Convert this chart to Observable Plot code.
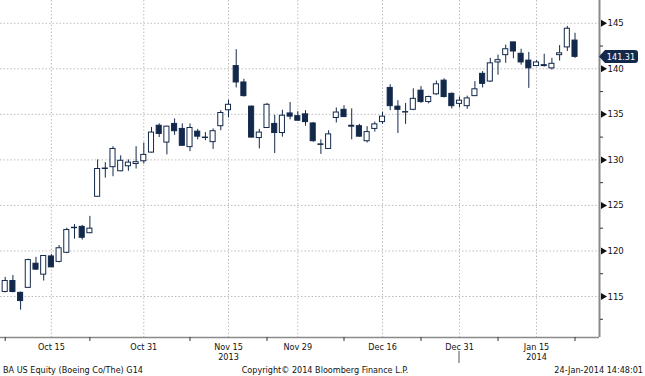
<!DOCTYPE html>
<html><head><meta charset="utf-8">
<script src="https://cdn.jsdelivr.net/npm/d3@7"></script>
<script src="https://cdn.jsdelivr.net/npm/@observablehq/plot@0.6"></script>
<style>
body{margin:0;background:#fff;}
#wrap{width:645px;height:376px;position:relative;font-family:"DejaVu Sans Condensed","DejaVu Sans",sans-serif;}
#footer{position:relative;height:12px;font-size:9px;color:#111;line-height:12px;}
#footer span{position:absolute;top:0;white-space:nowrap;}
</style></head><body>
<div id="wrap"><div id="chart"></div><div id="footer"></div></div>
<script>
// ---- data ----
const opens  = [115.5,116.7,115.4,115.95,118.6,117.4,119.4,118.8,119.8,122.5,122.65,121.95,
  125.95,129.0,129.2,128.75,129.3,129.55,129.85,130.8,133.75,131.9,133.95,133.4,131.4,133.1,132.45,131.95,133.7,135.45,
  140.3,138.5,135.85,132.4,133.5,133.95,132.95,135.1,134.8,135.0,134.0,131.7,131.2,134.6,135.5,
  133.75,133.7,132.05,133.4,134.15,137.9,135.85,135.2,135.5,137.6,136.35,137.2,138.7,137.25,136.15,
  135.9,137.0,139.45,138.6,140.7,141.5,142.9,141.65,140.9,140.3,140.4,140.05,141.5,142.35,143.1];
const highs  = [117.1,117.3,115.5,119.1,119.3,119.5,119.6,120.6,122.5,122.9,122.8,123.8,
  130.0,129.7,131.45,130.45,130.0,131.45,131.85,133.55,133.95,133.7,134.5,133.95,133.95,133.35,133.0,133.4,135.4,136.55,
  142.1,138.85,135.9,133.35,136.2,134.9,135.45,136.3,135.3,135.4,134.1,132.2,133.2,135.7,135.95,
  135.6,133.9,133.65,134.15,135.25,138.25,136.5,136.2,137.8,138.05,137.0,138.65,138.9,137.35,136.9,
  137.0,138.6,139.7,141.15,141.5,142.6,142.9,142.15,141.8,140.9,141.6,141.15,142.55,144.65,143.9];
const lows   = [115.4,115.4,113.5,115.9,117.9,116.7,118.2,118.7,119.7,121.3,121.2,121.9,
  125.9,128.0,128.15,128.7,128.75,129.0,129.55,130.75,132.45,130.55,132.7,131.5,130.9,132.2,132.1,131.15,133.2,134.6,
  137.9,136.9,132.4,131.2,133.45,130.7,132.5,134.4,134.25,133.7,131.95,130.6,131.15,134.05,134.65,
  132.2,132.5,131.85,133.05,133.9,135.4,132.9,133.9,135.4,136.2,136.15,137.1,136.8,135.6,135.7,
  135.55,136.95,137.9,138.5,139.3,140.6,141.1,140.4,137.85,140.25,140.2,139.85,140.85,141.9,141.15];
const closes = [116.7,115.5,114.5,119.0,117.95,119.45,118.2,120.3,122.3,122.55,121.45,122.45,
  129.0,129.05,131.2,129.9,129.7,129.75,130.55,133.0,132.85,133.65,133.15,131.55,133.5,132.55,132.4,133.15,135.15,136.05,
  138.5,137.0,132.45,133.0,136.05,132.95,134.85,134.75,134.3,134.15,132.05,131.65,132.8,135.2,134.7,
  133.65,132.55,133.05,133.9,134.75,135.9,135.5,135.25,136.7,136.35,136.9,138.3,136.9,135.9,136.5,
  136.75,137.75,138.35,140.6,140.95,142.15,141.9,140.7,140.05,140.7,140.3,140.55,141.7,144.4,141.31];
const dateTickIdx    = [6, 18, 29, 38, 49, 59, 69];
const dateTickLabels = ["Oct 15", "Oct 31", "Nov 15\n2013", "Nov 29", "Dec 16", "Dec 31", "Jan 15\n2014"];
const yearSplitIdx   = [59];
const minorXTicks    = [0, 11, 24, 34, 44, 54, 64, 74];
const priceTicks     = [115, 120, 125, 130, 135, 140, 145];
const priceMinor     = [112.5, 117.5, 122.5, 127.5, 132.5, 137.5, 142.5];
const lastPrice      = 141.31;
const footerTexts    = ["BA US Equity (Boeing Co/The) G14", "Copyright\u00A9 2014 Bloomberg Finance L.P.", "24-Jan-2014 14:48:01"];

// ---- build ----
const candles = opens.map((o, i) => ({i, open: o, high: highs[i], low: lows[i], close: closes[i]}));
const navy = "#13294b";
const grid = "#bdbdbd";
const axisGray = "#8a8a8a";
const fontFam = '"DejaVu Sans Condensed","DejaVu Sans",sans-serif';

function priceTag(index, scales, values, dimensions) {
  const y = scales.y(lastPrice);
  const x0 = dimensions.width - dimensions.marginRight;
  const g = d3.create("svg:g");
  g.append("path")
    .attr("d", `M${x0},${y} L${x0 + 6},${y - 6.5} H${x0 + 36} Q${x0 + 39},${y - 6.5} ${x0 + 39},${y - 3.5} V${y + 3.5} Q${x0 + 39},${y + 6.5} ${x0 + 36},${y + 6.5} H${x0 + 6} Z`)
    .attr("fill", navy);
  g.append("text")
    .attr("x", x0 + 22).attr("y", y).attr("dy", "0.35em")
    .attr("text-anchor", "middle").attr("fill", "#fff")
    .attr("font-size", 9).attr("font-family", fontFam)
    .text(lastPrice.toFixed(2));
  return g.node();
}

function yearSplit(index, scales, values, dimensions) {
  const g = d3.create("svg:g");
  yearSplitIdx.forEach(i => {
    const x = scales.x(i);
    g.append("line").attr("x1", x).attr("x2", x)
      .attr("y1", dimensions.height - dimensions.marginBottom + 14)
      .attr("y2", dimensions.height - 1).attr("stroke", "#555");
  });
  return g.node();
}

const chart = Plot.plot({
  width: 645, height: 364,
  marginLeft: 0, marginRight: 46, marginTop: 0, marginBottom: 27,
  style: {fontFamily: fontFam, fontSize: "9px", color: "#111", background: "#fff"},
  x: {domain: [-0.61, 77.18], axis: null, label: null},
  y: {domain: [110.5, 147.5], axis: null, label: null},
  marks: [
    Plot.gridY(priceTicks, {stroke: grid, strokeOpacity: 1, strokeDasharray: "1.5,2"}),
    Plot.gridX(dateTickIdx, {stroke: grid, strokeOpacity: 1, strokeDasharray: "1.5,2"}),
    Plot.ruleX(candles, {x: "i", y1: "low", y2: "high", stroke: navy, strokeWidth: 1}),
    Plot.rect(candles, {
      x1: d => d.i - 0.33, x2: d => d.i + 0.33,
      y1: d => Math.min(d.open, d.close), y2: d => Math.max(d.open, d.close),
      fill: d => d.close < d.open ? navy : "#fff", stroke: navy, strokeWidth: 1
    }),
    Plot.ruleY([110.5], {stroke: axisGray, strokeWidth: 1.5}),
    Plot.ruleX([77.18], {stroke: axisGray, strokeWidth: 2}),
    Plot.axisX(minorXTicks, {anchor: "bottom", tickSize: 4, tickFormat: () => "", stroke: "#333", label: null}),
    Plot.text(dateTickIdx, {x: d => d, frameAnchor: "bottom", dy: 5, lineAnchor: "top", lineHeight: 1.15,
      text: d => dateTickLabels[dateTickIdx.indexOf(d)], fill: "#111", fontSize: 9}),
    yearSplit,
    Plot.axisY(priceMinor, {anchor: "right", tickSize: 3, tickFormat: () => "", stroke: "#333", label: null}),
    Plot.axisY(priceTicks, {anchor: "right", tickSize: 0, tickPadding: 8, fill: "#111", fontSize: 9.5, label: null}),
    Plot.dot(priceTicks, {y: d => d, frameAnchor: "right", dx: 3.5, symbol: "triangle", rotate: 90, r: 2.6, fill: "#111", stroke: "none"}),
    priceTag
  ]
});
document.getElementById("chart").appendChild(chart);

const footer = document.getElementById("footer");
footerTexts.forEach((t, k) => {
  const s = document.createElement("span");
  s.textContent = t;
  if (k === 0) s.style.left = "3px";
  if (k === 1) { s.style.left = "325px"; s.style.transform = "translateX(-50%)"; }
  if (k === 2) s.style.right = "2px";
  footer.appendChild(s);
});
</script>
</body></html>
